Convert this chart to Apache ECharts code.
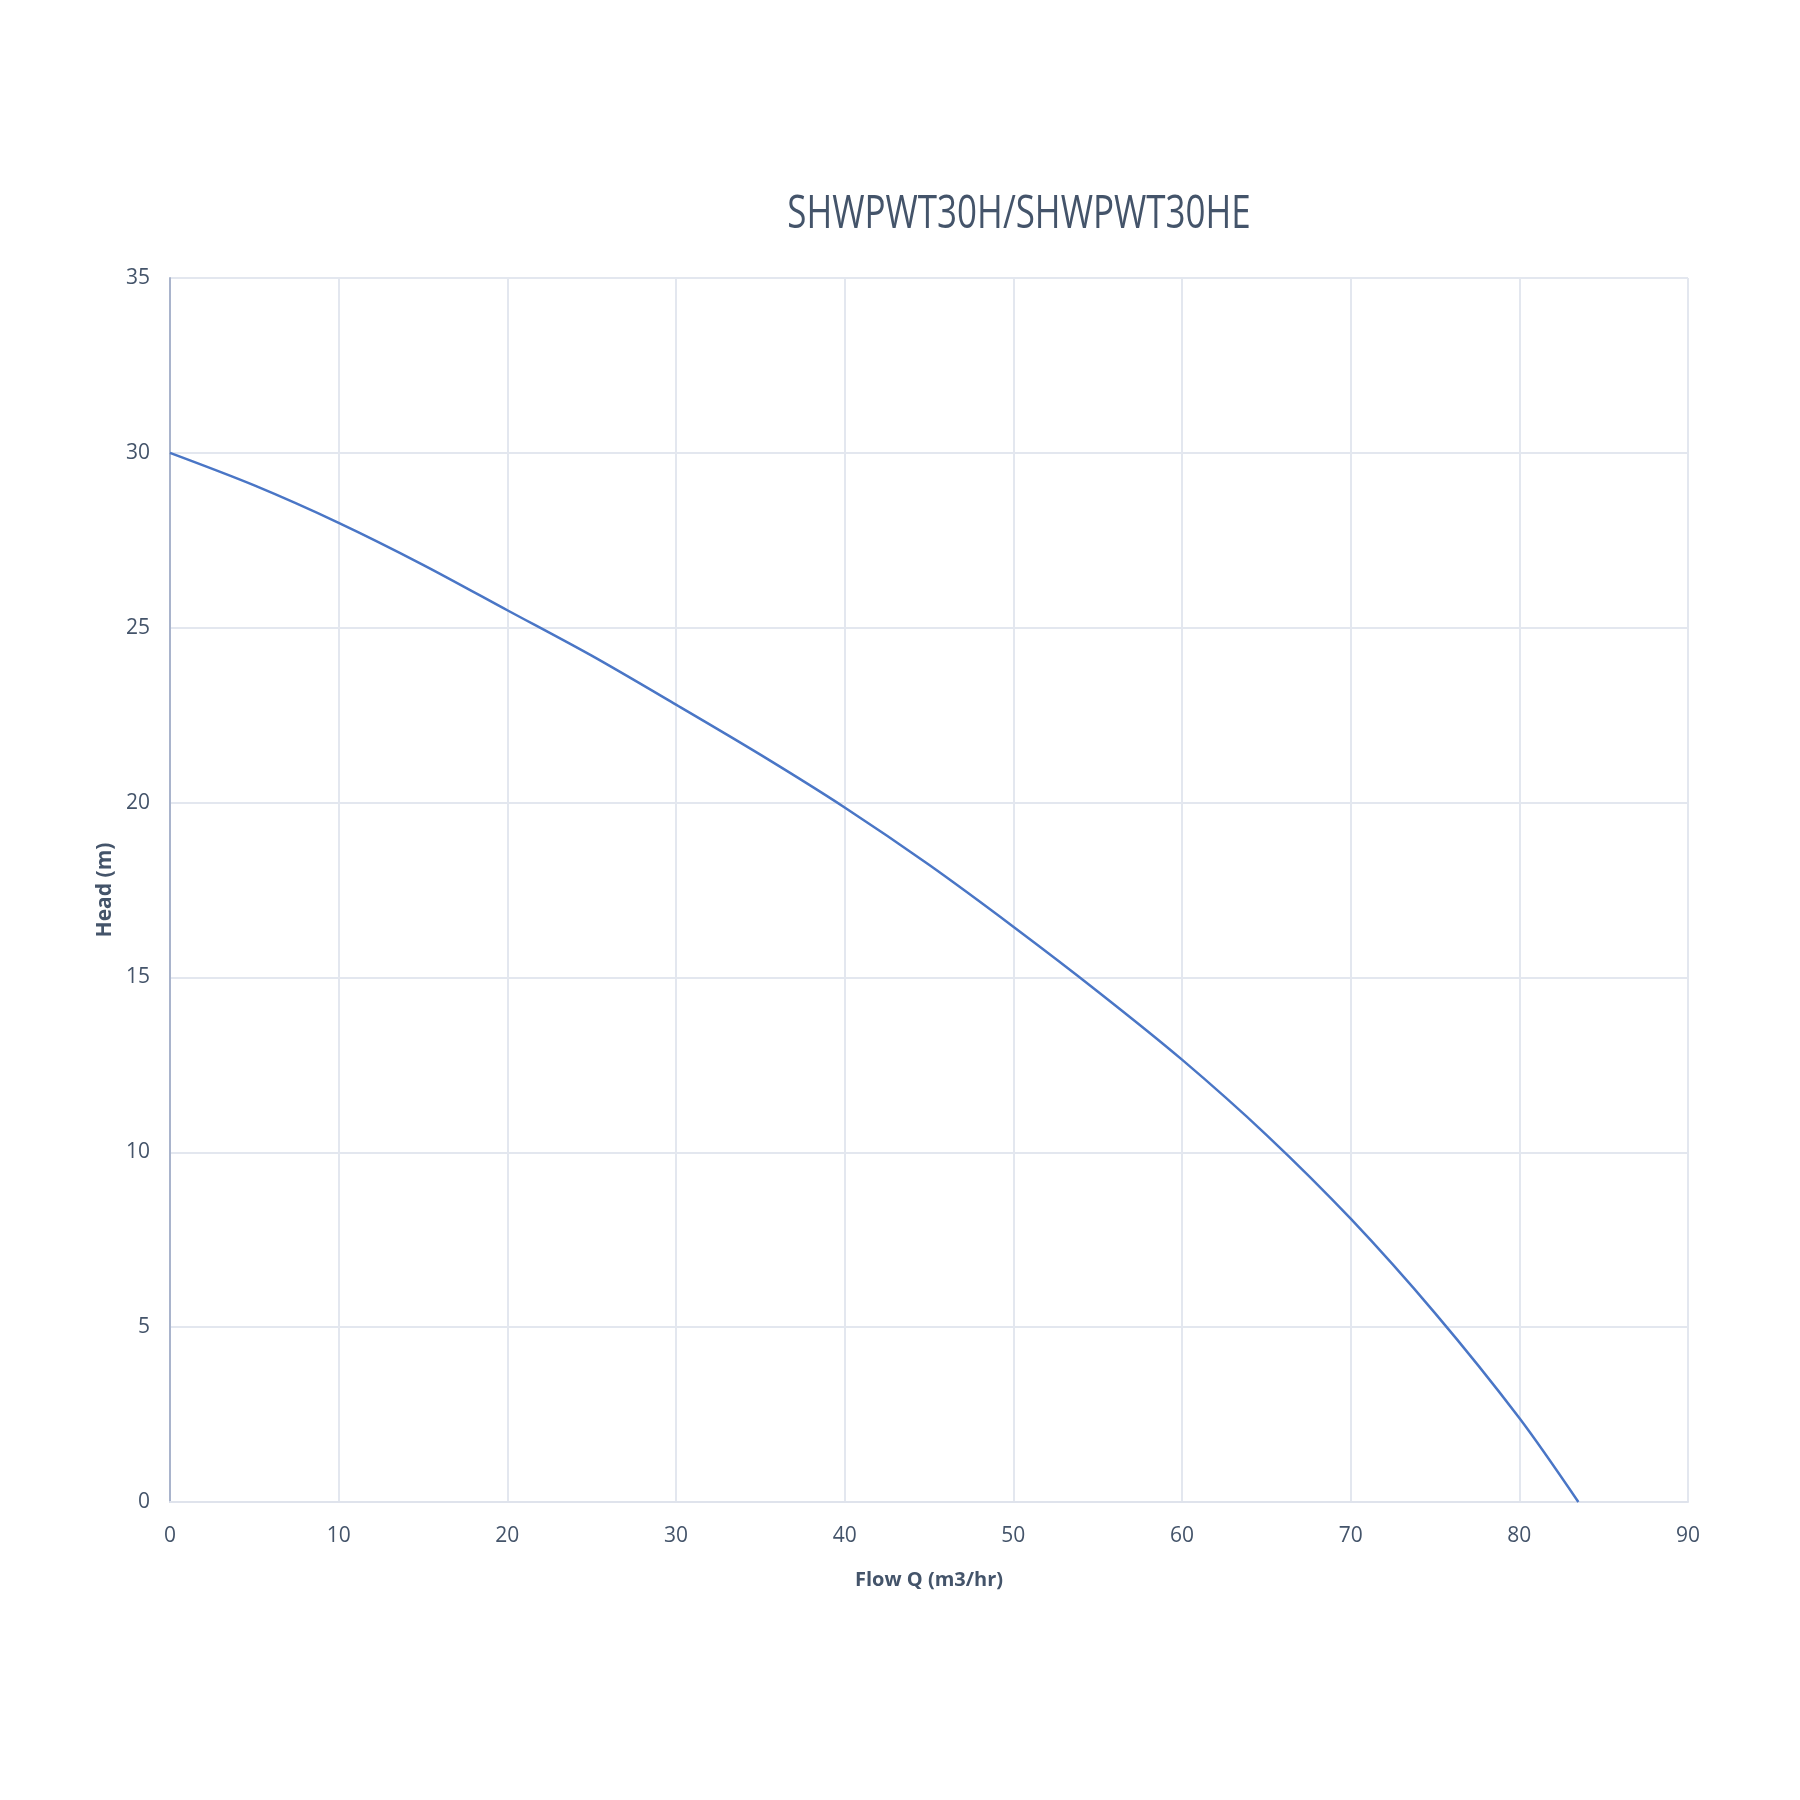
<!DOCTYPE html>
<html>
<head>
<meta charset="utf-8">
<script src="https://cdn.jsdelivr.net/npm/echarts@6/dist/echarts.min.js"></script>
<style>html,body{margin:0;padding:0;background:#fff;}#c{width:1800px;height:1800px;}</style>
</head>
<body>
<div id="c"></div>
<script>
const titleText = 'SHWPWT30H/SHWPWT30HE';
const xAxisName = 'Flow Q (m3/hr)';
const yAxisName = 'Head (m)';
const flow = [0, 5, 10, 15, 20, 25, 30, 35, 40, 45, 50, 55, 60, 65, 70, 75, 80, 83.5];
const head = [30, 29.07, 28.0, 26.8, 25.5, 24.2, 22.8, 21.37, 19.86, 18.22, 16.45, 14.6, 12.65, 10.5, 8.1, 5.4, 2.4, 0];
const xTicks = [0, 10, 20, 30, 40, 50, 60, 70, 80, 90];
const yTicks = [0, 5, 10, 15, 20, 25, 30, 35];

const FONT = "'Open Sans', 'Noto Sans', sans-serif";
const chart = echarts.init(document.getElementById('c'), null, {renderer: 'canvas'});
chart.setOption({
  backgroundColor: '#ffffff',
  animation: false,
  graphic: [{
    type: 'text',
    x: 1019, y: 215,
    scaleX: 0.76,
    style: {
      text: titleText,
      textAlign: 'center', textVerticalAlign: 'middle',
      fontFamily: FONT, fontSize: 46, fontWeight: 'normal', fill: '#44546a'
    }
  }],
  grid: {left: 170, right: 112, top: 278, bottom: 298, containLabel: false},
  xAxis: {
    type: 'value', min: xTicks[0], max: xTicks[xTicks.length - 1], interval: 10,
    name: xAxisName, nameLocation: 'middle', nameGap: 68,
    nameTextStyle: {fontFamily: FONT, fontSize: 20, fontWeight: 'bold', color: '#44546a'},
    axisLine: {show: true, lineStyle: {color: '#dfe3ec', width: 2}},
    axisTick: {show: false},
    axisLabel: {margin: 24, fontFamily: FONT, fontSize: 21, color: '#44546a'},
    splitLine: {show: true, lineStyle: {color: '#e3e7ef', width: 2}}
  },
  yAxis: {
    type: 'value', min: yTicks[0], max: yTicks[yTicks.length - 1], interval: 5,
    name: yAxisName, nameLocation: 'middle', nameGap: 47, nameRotate: 90,
    nameTextStyle: {fontFamily: FONT, fontSize: 21, fontWeight: 'bold', color: '#44546a'},
    axisLine: {show: true, lineStyle: {color: '#a9b4cc', width: 2}},
    axisTick: {show: false},
    axisLabel: {margin: 20, fontFamily: FONT, fontSize: 21, color: '#44546a'},
    splitLine: {show: true, lineStyle: {color: '#e3e7ef', width: 2}}
  },
  series: [{
    type: 'line',
    data: flow.map((x, i) => [x, head[i]]),
    smooth: 0.3,
    showSymbol: false,
    lineStyle: {color: '#4a76c6', width: 2.5}
  }]
});
</script>
</body>
</html>
